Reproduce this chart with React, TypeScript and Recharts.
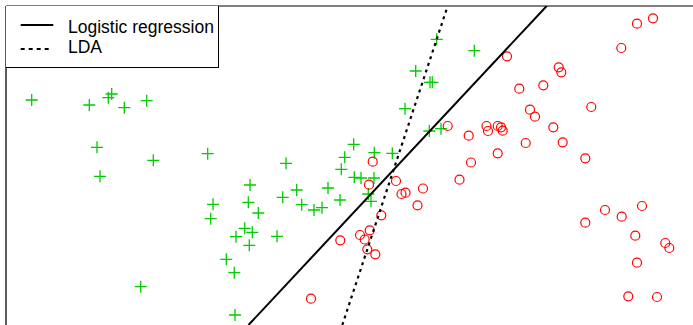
import React from 'react';
import { ScatterChart, Scatter, XAxis, YAxis, ReferenceLine } from 'recharts';

// class 1 (green +)
const greenX = [31.7, 89.3, 108.3, 111.7, 124.3, 146.7, 97, 153.3, 207.7, 100, 140.7, 286, 250, 296.7, 328, 282.7, 213, 248.3, 301.7, 340, 258.3, 314, 322, 210.7, 244.7, 252.3, 236, 249.3, 277, 226.3, 234.3, 235, 353.7, 344.7, 374.3, 392.3, 341.3, 354.3, 361, 374, 368.3, 371, 436.7, 474.3, 415.7, 430, 432.3, 405, 429.3, 441];
const greenY = [225, 220, 227.3, 231, 217.3, 224.3, 177.7, 164.7, 171.3, 148.7, 38.3, 161.7, 140, 135, 137, 127.7, 120.7, 122.7, 120.3, 125, 112, 115, 117.3, 106.3, 96.7, 92.7, 88.3, 79.7, 88.7, 65.7, 52.3, 10, 180.7, 167.7, 172.3, 171.7, 155.7, 147.7, 147, 147, 131, 123.7, 285.7, 274.3, 254, 242.7, 242.7, 216.3, 194, 196.3];

// class 2 (red o)
const redX = [372.7, 369, 396, 401.5, 405.5, 423, 417.5, 381.3, 369.7, 360, 364.7, 340.3, 367.3, 375.3, 311, 447.7, 468.7, 486.5, 488, 497.7, 501, 502.7, 507, 653, 637, 621.3, 558.7, 561.3, 543.3, 519.3, 530, 535, 591.3, 553.3, 525.7, 562.7, 497.7, 585.3, 471, 459.5, 605, 621.7, 642, 585.3, 635.3, 665.3, 669.3, 637, 628.3, 657];
const redY = [163.3, 140.3, 144, 131, 132.3, 136.5, 119.7, 109.7, 94.7, 90, 85.5, 84.7, 75.7, 70.7, 26.3, 199, 189.3, 199, 194, 199, 197.7, 194.3, 268.7, 306.7, 301.3, 277, 257.7, 252.7, 239.7, 236.3, 215.3, 208.3, 218, 197.7, 182, 182.7, 171.7, 166.7, 162.5, 145.3, 115, 108.3, 119, 102.3, 89.3, 82, 77, 62.3, 28.7, 28];

// decision boundaries (end points)
const logisticX = [248.5, 546.7];
const logisticY = [0, 319];
const ldaX = [342.3, 447.7];
const ldaY = [0, 319];

const xDomain = [6, 693];
const yDomain = [0, 319];

const zip = (xs: number[], ys: number[]) => xs.map((x, i) => ({ x, y: ys[i] }));

const greenData = zip(greenX, greenY);
const redData = zip(redX, redY);
const logisticData = zip(logisticX, logisticY);
const ldaData = zip(ldaX, ldaY);

const Plus = ({ cx, cy }: any) => (
  <path
    d={`M${cx - 6},${cy}h12M${cx},${cy - 6}v12`}
    stroke="#00cc00"
    strokeWidth={1.3}
    fill="none"
  />
);

const Ring = ({ cx, cy }: any) => (
  <circle cx={cx} cy={cy} r={4.5} stroke="#ff0000" strokeWidth={1.2} fill="none" />
);

const Nothing = () => <g />;

const font = '"Liberation Sans", Arial, sans-serif';

export default function App() {
  return (
    <div style={{ position: 'absolute', left: 0, top: 0, width: 693, height: 325, background: '#fff' }}>
      <ScatterChart width={693} height={325} margin={{ top: 6, right: 0, bottom: 0, left: 6 }}>
        <XAxis type="number" dataKey="x" domain={xDomain} hide allowDataOverflow />
        <YAxis type="number" dataKey="y" domain={yDomain} hide allowDataOverflow />
        <Scatter data={greenData} shape={<Plus />} isAnimationActive={false} />
        <Scatter data={redData} shape={<Ring />} isAnimationActive={false} />
        <Scatter
          data={logisticData}
          line={{ stroke: '#000', strokeWidth: 2 }}
          lineType="joint"
          shape={<Nothing />}
          isAnimationActive={false}
        />
        <Scatter
          data={ldaData}
          line={{ stroke: '#000', strokeWidth: 2.2, strokeDasharray: '3 4' }}
          lineType="joint"
          shape={<Nothing />}
          isAnimationActive={false}
        />
        {/* plot frame */}
        <ReferenceLine x={xDomain[0]} stroke="#333" strokeWidth={1.6} />
        <ReferenceLine y={yDomain[1]} stroke="#000" strokeWidth={1} />
      </ScatterChart>

      {/* legend box */}
      <div
        style={{
          position: 'absolute',
          left: 6,
          top: 6,
          width: 213,
          height: 62,
          boxSizing: 'border-box',
          borderRight: '1px solid #000',
          borderBottom: '1px solid #000',
          background: '#fff',
        }}
      >
        <svg width={212} height={61} style={{ position: 'absolute', left: 0, top: 0 }}>
          <line x1={14.7} y1={19} x2={47.3} y2={19} stroke="#000" strokeWidth={2} />
          <line x1={14.7} y1={43} x2={45} y2={43} stroke="#000" strokeWidth={2} strokeDasharray="4 4" />
          <text x={62} y={27.3} fontFamily={font} fontSize={17.5} fill="#000">
            Logistic regression
          </text>
          <text x={62} y={47.3} fontFamily={font} fontSize={17.5} fill="#000">
            LDA
          </text>
        </svg>
      </div>
    </div>
  );
}
